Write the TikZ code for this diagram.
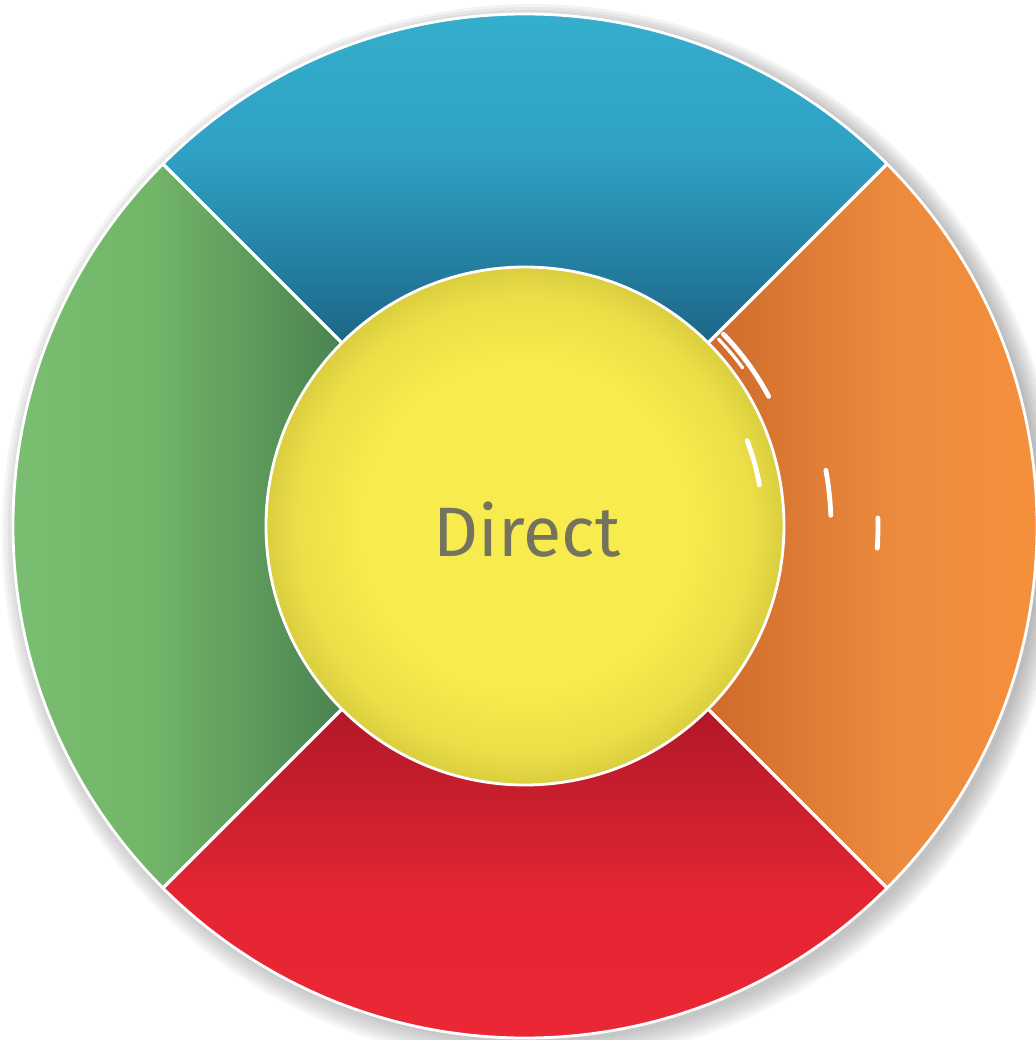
\documentclass[tikz,border=0pt]{standalone}
\usepackage{fontspec}
\newfontfamily\hubfont{Fira Sans}
\usetikzlibrary{positioning}

\definecolor{blueL}{HTML}{37B2D0}
\definecolor{blueM}{HTML}{2FA1C4}
\definecolor{blueD}{HTML}{1C6586}
\definecolor{orangeD}{HTML}{CF6A2B}
\definecolor{orangeM}{HTML}{EC8B3E}
\definecolor{orangeL}{HTML}{F8913B}
\definecolor{redD}{HTML}{B01828}
\definecolor{redM}{HTML}{E42632}
\definecolor{redL}{HTML}{EE2736}
\definecolor{greenL}{HTML}{7DC176}
\definecolor{greenM}{HTML}{72B568}
\definecolor{greenD}{HTML}{4A8250}
\definecolor{yelC}{HTML}{F8EB4E}
\definecolor{yelE}{HTML}{DBCE3F}
\definecolor{ink}{HTML}{74735E}
\definecolor{shade}{HTML}{8E9AA8}

\pgfdeclareradialshading{yolk}{\pgfpoint{0bp}{0bp}}{%
  color(0bp)=(yelC); color(16bp)=(yelC); color(22bp)=(yelE!45!yelC); color(25bp)=(yelE); color(50bp)=(yelE)}

\begin{document}
\begin{tikzpicture}[x=0.5pt,y=0.5pt,
    divider/.style={white,line width=1.6pt},
    glint/.style={white,line width=2.4pt,line cap=round},
    hub/.style={circle,draw=white,line width=1.4pt,minimum size=259pt,inner sep=0pt,shading=yolk}]
  \useasboundingbox[fill=white] (-525,-514) rectangle (511,526);
  % soft shadow round the disc
  \foreach \r in {3,6,...,24}
    \fill[shade,opacity=0.03] (7,-8) circle[radius=506+\r];
  % the four quarters
  \fill[top color=blueL,bottom color=blueD,middle color=blueM]
    (45:512) arc[start angle=45,end angle=135,radius=512] -- (135:255)
    arc[start angle=135,end angle=45,radius=255] -- cycle;
  \fill[left color=orangeD,right color=orangeL,middle color=orangeM]
    (-45:512) arc[start angle=-45,end angle=45,radius=512] -- (45:255)
    arc[start angle=45,end angle=-45,radius=255] -- cycle;
  \fill[bottom color=redL,top color=redD,middle color=redM]
    (225:512) arc[start angle=225,end angle=315,radius=512] -- (315:255)
    arc[start angle=315,end angle=225,radius=255] -- cycle;
  \fill[left color=greenL,right color=greenD,middle color=greenM]
    (135:512) arc[start angle=135,end angle=225,radius=512] -- (225:255)
    arc[start angle=225,end angle=135,radius=255] -- cycle;
  \foreach \a in {45,135,225,315}
    \draw[divider] (\a:250) -- (\a:512);
  \draw[white,line width=1.4pt] (0,0) circle[radius=512];
  % centre
  \node (hub) [hub] at (0,0) {};
  \node (label) [font=\hubfont\fontsize{35}{40}\selectfont,text=ink,anchor=base] at (2,-30) {Direct};
  % highlights
  \draw[glint] (44:276) arc[start angle=44,end angle=28,radius=276];
  \draw[glint,line width=1.6pt] (44:269) arc[start angle=44,end angle=36,radius=269];
  \draw[glint] (21:238) arc[start angle=21,end angle=10,radius=238];
  \draw[glint] (10.5:306) arc[start angle=10.5,end angle=2,radius=306];
  \draw[glint] (1.3:353) arc[start angle=1.3,end angle=-3.6,radius=353];
\end{tikzpicture}
\end{document}
